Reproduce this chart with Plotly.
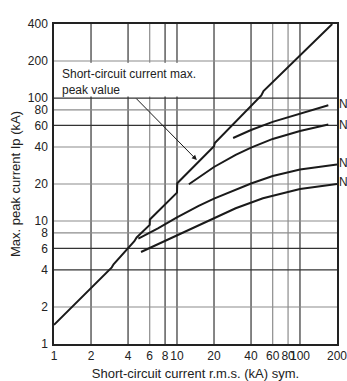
import math
import plotly.graph_objects as go

# tick values (both axes log)
x_ticks = [1, 2, 4, 6, 8, 10, 20, 40, 60, 80, 100, 200]
y_ticks = [1, 2, 4, 6, 8, 10, 20, 40, 60, 80, 100, 200, 400]
# grid lines that look lighter in the original
x_light = [6, 60, 80]
y_light = [2, 8, 10, 20, 40, 80, 200]

# short-circuit current max. peak value
peak_x = [1, 2, 2.95, 3.05, 4, 4.5, 4.7, 6, 6.02, 10, 10.05, 20, 20.3, 48.5, 50.5, 183]
peak_y = [1.43, 2.85, 4.2, 4.45, 6.0, 6.85, 7.35, 9.3, 10.3, 17.0, 20.3, 40.5, 43, 105, 114, 400]

# device curves, top to bottom
c1_x = [28.6, 40, 60, 100, 170]
c1_y = [47.3, 55, 64, 75, 87.5]

c2_x = [12.5, 20, 30, 40, 60, 100, 170]
c2_y = [19.9, 27.5, 34.5, 39.5, 46.5, 54, 61]

c3_x = [4.85, 7, 10, 15, 20, 30, 40, 60, 100, 200]
c3_y = [7.2, 8.7, 10.7, 13.3, 15.2, 18.1, 20.2, 23.2, 26.2, 28.8]

c4_x = [5.1, 8, 12, 20, 30, 50, 100, 200]
c4_y = [5.6, 6.9, 8.3, 10.6, 12.7, 15.3, 18.2, 20.0]

curve_labels = ["N", "N", "N", "N"]
label_y = [89.4, 60.3, 29.6, 20.7]

X_MAX, Y_MAX = 200, 400


def px_x(v):
    return math.log10(v) / math.log10(X_MAX)


def px_y(v):
    return math.log10(v) / math.log10(Y_MAX)


line_col = "#1a1a1a"
fig = go.Figure()
for xs, ys in [(peak_x, peak_y), (c1_x, c1_y), (c2_x, c2_y), (c3_x, c3_y), (c4_x, c4_y)]:
    fig.add_trace(go.Scatter(x=xs, y=ys, mode="lines",
                             line=dict(color=line_col, width=2), showlegend=False,
                             hoverinfo="skip"))

# grid lines, drawn by hand so a few can be lighter
for v in x_ticks[1:-1]:
    col = "#8c8c8c" if v in x_light else "#333"
    fig.add_shape(type="line", xref="paper", yref="paper", x0=px_x(v), x1=px_x(v),
                  y0=0, y1=1, line=dict(color=col, width=1.2), layer="below")
for v in y_ticks[1:-1]:
    col = "#8c8c8c" if v in y_light else "#333"
    fig.add_shape(type="line", xref="paper", yref="paper", x0=0, x1=1,
                  y0=px_y(v), y1=px_y(v), line=dict(color=col, width=1.2), layer="below")

font = dict(family="Liberation Sans, Arial, sans-serif", size=12, color="#222")

# white box behind the annotation text
fig.add_shape(type="rect", xref="paper", yref="paper",
              x0=px_x(1.03), x1=px_x(19.5), y0=px_y(103), y1=px_y(194),
              fillcolor="white", line=dict(width=0), layer="above")

fig.add_annotation(x=px_x(1.12), y=px_y(136), xref="paper", yref="paper",
                   text="Short-circuit current max.<br>peak value", showarrow=False,
                   xanchor="left", yanchor="middle", align="left", font=font)
fig.add_annotation(x=px_x(14.5), y=px_y(31.3), xref="paper", yref="paper",
                   text="", showarrow=True, ax=-62, ay=-63, arrowhead=2,
                   arrowsize=1, arrowwidth=1, arrowcolor=line_col)

for t, yv in zip(curve_labels, label_y):
    fig.add_annotation(x=1.0, y=px_y(yv), xref="paper", yref="paper", text=t,
                       showarrow=False, xanchor="left", yanchor="middle", font=font)

axis_common = dict(type="log", showgrid=False, automargin=False,
                   showline=True, linecolor="#222", linewidth=1.5, mirror=True,
                   ticks="", zeroline=False, tickfont=font, tickangle=0,
                   ticklabeloverflow="allow")

fig.update_xaxes(range=[0, math.log10(X_MAX)], tickvals=x_ticks,
                 ticktext=[str(v) for v in x_ticks],
                 title=dict(text="Short-circuit current r.m.s. (kA) sym.",
                            font=dict(family=font["family"], size=13, color="#222"),
                            standoff=8),
                 **axis_common)
fig.update_yaxes(range=[0, math.log10(Y_MAX)], tickvals=y_ticks,
                 ticktext=[str(v) for v in y_ticks], ticklabelstandoff=2,
                 title=dict(text="Max. peak current Ip (kA)",
                            font=dict(family=font["family"], size=13, color="#222"),
                            standoff=4),
                 **axis_common)

fig.update_layout(width=347, height=381, margin=dict(l=54, r=10, t=24, b=37),
                  plot_bgcolor="white", paper_bgcolor="white")

# drop the default body margin so the figure fills the window exactly
fig.write_html("out.html", config={"displayModeBar": False},
               post_script="document.body.style.margin='0';"
                           "document.body.style.overflow='hidden';")
